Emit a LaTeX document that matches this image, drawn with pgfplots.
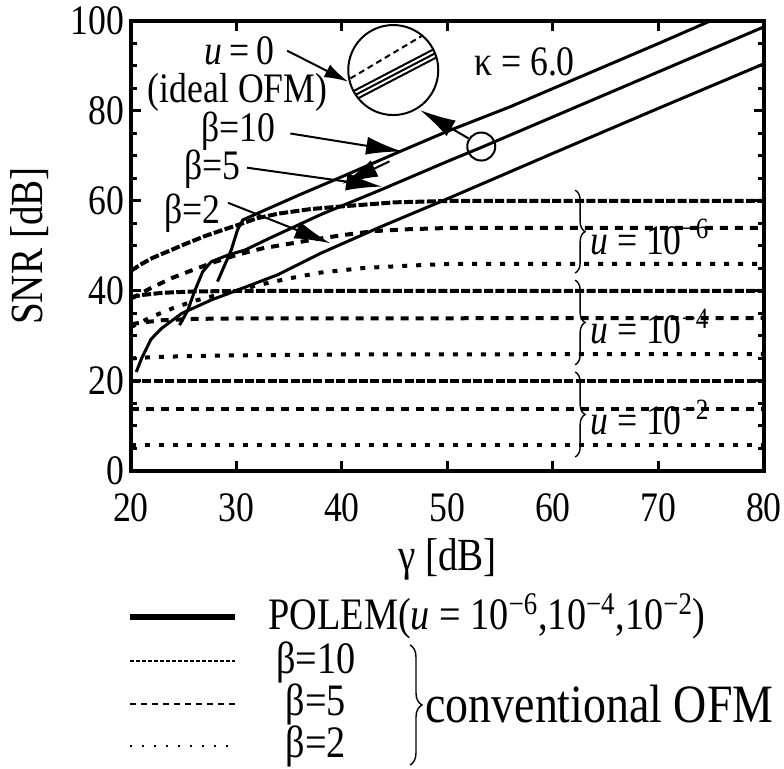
\documentclass[border=0pt]{standalone}
\usepackage{fontspec}
\setmainfont{Liberation Serif}[FakeStretch=0.85]
\usepackage{pgfplots}
\pgfplotsset{compat=1.18}
\usetikzlibrary{arrows.meta,decorations.pathreplacing}

\newcommand{\tickf}{\fontsize{21}{24}\selectfont}
\newcommand{\labf}{\fontsize{23}{27}\selectfont}
\newcommand{\annf}{\fontsize{21}{24}\selectfont}
\newcommand{\legf}{\fontsize{22.5}{26}\selectfont}

\tikzset{
  polem/.style={black, line width=1.5pt},
  bten/.style={black, line width=2pt, dash pattern=on 4.5pt off 1.2pt},
  bfive/.style={black, line width=2pt, dash pattern=on 4pt off 3.5pt},
  btwo/.style={black, line width=2pt, dash pattern=on 2.5pt off 4.5pt},
  lbl/.style={font=\annf, inner sep=0pt},
  arr/.style={line width=1pt, -{Latex[length=18pt,width=9pt]}},
  sarr/.style={line width=1pt, -{Latex[length=12pt,width=7pt]}},
}

\begin{document}
\begin{tikzpicture}
\useasboundingbox (0,0) rectangle (392pt,-384.5pt);
\begin{axis}[
  at={(65.5pt,-235.5pt)}, anchor=south west,
  scale only axis, width=316.5pt, height=225pt,
  xmin=20, xmax=80, ymin=0, ymax=100,
  xtick={20,30,...,80}, ytick={0,20,...,100}, minor y tick num=3,
  axis line style={line width=2pt},
  tick style={line width=1.5pt, black},
  major tick length=5pt, minor tick length=3pt,
  ticklabel style={font=\tickf},
  xticklabel style={yshift=-8pt},
  /pgf/number format/assume math mode=true,
  xlabel={γ [dB]}, ylabel={SNR [dB]},
  label style={font=\labf},
  xlabel style={at={(axis description cs:0.5,-0.197)}, anchor=center},
  ylabel style={at={(axis description cs:-0.16,0.5)}, anchor=center},
]
% conventional OFM, u = 1e-6
\addplot[bten] coordinates {(20,44.5) (21,46) (22,47.3) (23,48.3) (25,50.3) (27,52.2) (29,53.8) (30.3,54.8) (32,56.2) (34,57.2) (37,58.2) (40,58.8) (45,59.7) (50,60) (80,60)};
\addplot[bfive] coordinates {(20,38.3) (22,40.8) (24,43) (26,44.8) (28,46.5) (30,48) (32.5,49.5) (35,50.5) (37.5,51.5) (40,52.4) (43,53.3) (46,53.7) (50,54) (80,54)};
\addplot[btwo] coordinates {(20,32) (22,34.3) (24,36.2) (26,37.8) (28,39) (29.2,39.5) (32,41.3) (35,42.8) (38,44.1) (42,45.1) (46,45.6) (50,46) (80,46)};
% conventional OFM, u = 1e-4
\addplot[bten] coordinates {(20,38.6) (21,39.1) (23,39.6) (26,39.9) (30,40) (80,40)};
\addplot[bfive] coordinates {(20,32.6) (21,33) (23,33.5) (26,33.8) (30,33.9) (80,34)};
\addplot[btwo] coordinates {(20,25) (22,25.3) (25,25.5) (30,25.7) (40,25.9) (80,26)};
% conventional OFM, u = 1e-2
\addplot[bten] coordinates {(20,20) (80,20)};
\addplot[bfive] coordinates {(20,13.7) (80,13.7)};
\addplot[btwo] coordinates {(20,5.8) (80,5.8)};
% POLEM
\addplot[polem] coordinates {(28.2,42.1) (29.5,49.1) (30.1,53.6) (30.6,55.8) (33,58.3) (36,61.4) (40,65.4) (45.5,71) (50,75.5) (55.9,80.9) (60,85) (65,90) (70,95) (74.9,100)};
\addplot[polem] coordinates {(24.6,32.4) (25.4,35.8) (26,39.8) (26.8,44.3) (27.6,46.5) (29.2,48) (30.8,49.1) (33.2,51.8) (38,57) (43.6,62.4) (50,68.8) (53.3,72) (60,78.7) (70,88.7) (80,98.7)};
\addplot[polem] coordinates {(20.5,22) (21,25) (21.9,29.3) (22.9,31.7) (24.8,35) (27.6,38) (30.1,40.2) (33.9,43.6) (38,48.4) (43.6,54.2) (50,60.5) (60,70.6) (70,80.6) (80,90.5)};

% labels and arrows
\node[lbl] at (axis cs:30.3,93.4) {\textit{u}\,=\,0};
\node[lbl] at (axis cs:30.1,84.2) {(ideal OFM)};
\node[lbl] at (axis cs:30.2,75.5) {β=10};
\node[lbl] at (axis cs:27.7,67.1) {β=5};
\node[lbl] at (axis cs:25.8,57.4) {β=2};
\node[lbl] at (axis cs:57.3,91) {κ = 6.0};
\draw[sarr] (axis cs:34.8,93.4) -- (axis cs:40.6,86.5);
\draw[arr] (axis cs:35.1,75) -- (axis cs:45.7,71);
\draw[arr] (axis cs:31,67.4) -- (axis cs:43.8,63.2);
\draw[arr] (axis cs:29.2,59.6) -- (axis cs:38.9,50.6);
\draw[arr] (axis cs:44.5,68.8) -- (axis cs:40,63.8);
% zoom circles
\draw[line width=1pt] (axis cs:53.2,72.1) circle[radius=7pt];
\draw[arr] (axis cs:52,73.9) -- (axis cs:47.4,80.2);
\draw[line width=1pt] (axis cs:44.86,89.1) circle[radius=22.5pt];
\begin{scope}
  \clip (axis cs:44.86,89.1) circle[radius=22.5pt];
  \draw[line width=1pt, dash pattern=on 3pt off 2pt] ([shift={(-30pt,-9.3pt)}]axis cs:44.86,89.1) -- ([shift={(30pt,26.4pt)}]axis cs:44.86,89.1);
  \draw[line width=1pt] ([shift={(-30pt,-15.8pt)}]axis cs:44.86,89.1) -- ([shift={(30pt,15.5pt)}]axis cs:44.86,89.1);
  \draw[line width=1pt] ([shift={(-30pt,-18.2pt)}]axis cs:44.86,89.1) -- ([shift={(30pt,13.1pt)}]axis cs:44.86,89.1);
  \draw[line width=1pt] ([shift={(-30pt,-20.6pt)}]axis cs:44.86,89.1) -- ([shift={(30pt,10.7pt)}]axis cs:44.86,89.1);
\end{scope}
% braces
\draw[line width=0.7pt, decorate, decoration={brace, amplitude=5pt}] (axis cs:62.1,62.4) -- (axis cs:62.1,44);
\draw[line width=0.7pt, decorate, decoration={brace, amplitude=5pt}] (axis cs:62.1,42.4) -- (axis cs:62.1,23.6);
\draw[line width=0.7pt, decorate, decoration={brace, amplitude=5pt}] (axis cs:62.1,22) -- (axis cs:62.1,3.1);
\node[lbl, anchor=west] at (axis cs:63.5,52) {\textit{u} = 10\textsuperscript{−6}};
\node[lbl, anchor=west] at (axis cs:63.5,32) {\textit{u} = 10\textsuperscript{−4}};
\node[lbl, anchor=west] at (axis cs:63.5,11.8) {\textit{u} = 10\textsuperscript{−2}};
\end{axis}

% legend
\draw[black, line width=3pt] (65pt,-308.5pt) -- (117.5pt,-308.5pt);
\node[font=\legf, inner sep=0pt, anchor=west] at (134pt,-308pt) {POLEM(\textit{u} = 10\textsuperscript{−6},10\textsuperscript{−4},10\textsuperscript{−2})};
\draw[black, line width=0.8pt, dash pattern=on 2pt off 1pt] (65pt,-330.5pt) -- (117.5pt,-330.5pt);
\draw[black, line width=0.8pt, dash pattern=on 3pt off 2.5pt] (65pt,-352pt) -- (117.5pt,-352pt);
\draw[black, line width=0.8pt, dash pattern=on 1pt off 5pt] (65pt,-373pt) -- (117.5pt,-373pt);
\node[font=\legf, inner sep=0pt] at (158pt,-331pt) {β=10};
\node[font=\legf, inner sep=0pt] at (158pt,-352pt) {β=5};
\node[font=\legf, inner sep=0pt] at (158pt,-373pt) {β=2};
\draw[line width=0.7pt, decorate, decoration={brace, amplitude=6pt}] (205pt,-322.5pt) -- (205pt,-382.5pt);
\node[font=\fontsize{27}{31}\selectfont, inner sep=0pt, anchor=west] at (212.5pt,-352pt) {conventional OFM};
\end{tikzpicture}
\end{document}
